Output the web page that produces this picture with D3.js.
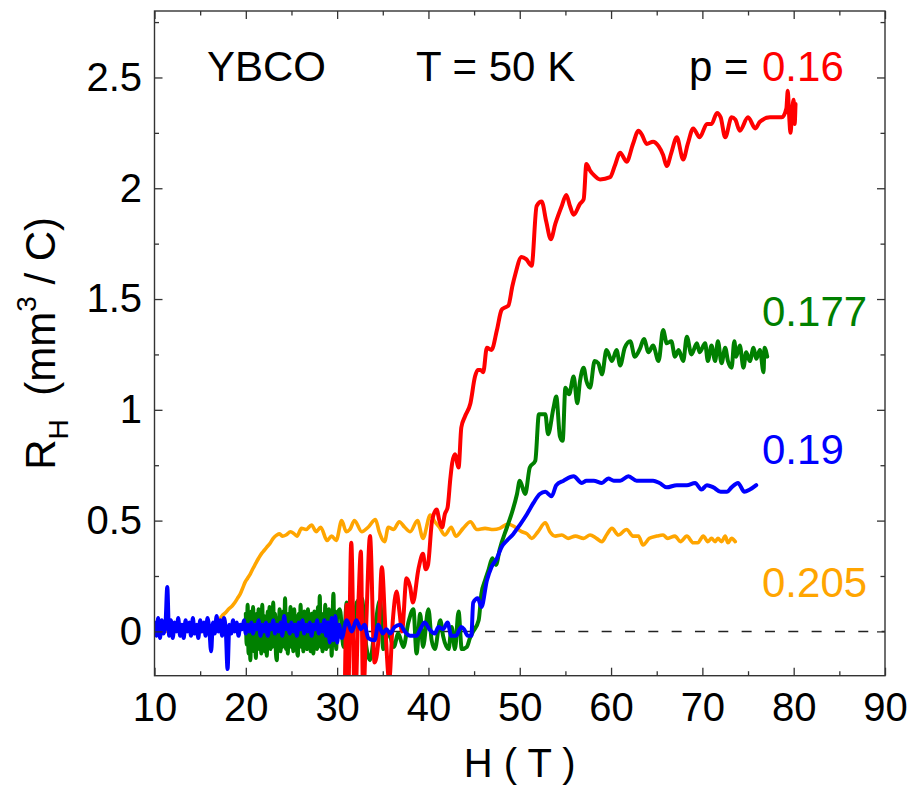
<!DOCTYPE html>
<html>
<head>
<meta charset="utf-8">
<script src="https://cdn.jsdelivr.net/npm/d3@7"></script>
<style>
  html, body { margin: 0; padding: 0; background: #fff; }
  svg { display: block; font-family: "Liberation Sans", Arial, sans-serif; }
  text { white-space: pre; }
</style>
</head>
<body>
<svg id="chart" width="915" height="786"></svg>
<script>
// Hall coefficient R_H vs field H for YBCO at T = 50 K, four dopings p.

const xTicks = [10, 20, 30, 40, 50, 60, 70, 80, 90];
const xMinor = [15, 25, 35, 45, 55, 65, 75, 85];
const yTicks = [0, 0.5, 1, 1.5, 2, 2.5];
const yMinor = [0.25, 0.75, 1.25, 1.75, 2.25, 2.75];
const yTickLabels = ["0", "0.5", "1", "1.5", "2", "2.5"];

// p = 0.16  [H (T), R_H (mm^3/C)]
const red = [
  [30.8,-0.40],[31.05,0.12],[31.2,-0.30],[31.55,0.40],[31.95,-0.35],[32.35,0.15],[32.6,0.36],
  [32.85,-0.30],[33.2,0.05],[33.6,0.43],[34.1,-0.14],[34.5,-0.05],[34.9,0.29],[35.3,0.00],
  [35.7,-0.22],[36.1,0.05],[36.5,0.18],[36.85,0.08],[37.1,0.00],[37.6,0.24],[38.0,0.20],
  [38.3,0.13],[38.9,0.28],[39.4,0.35],[39.7,0.28],[39.95,0.30],[40.4,0.50],[40.9,0.55],
  [41.2,0.50],[41.5,0.47],[41.8,0.53],[42.1,0.56],[42.4,0.69],[42.6,0.76],[42.9,0.80],
  [43.3,0.74],[43.6,0.92],[44.0,0.97],[44.6,1.03],[45.1,1.15],[45.4,1.18],[45.7,1.18],
  [46.0,1.17],[46.4,1.28],[46.9,1.27],[47.5,1.36],[48.0,1.45],[48.3,1.46],[48.75,1.47],
  [49.2,1.56],[49.5,1.61],[50.2,1.69],[50.7,1.68],[51.3,1.65],[51.85,1.92],[52.4,1.94],
  [52.9,1.85],[53.4,1.77],[53.9,1.84],[54.6,1.92],[55.1,1.97],[55.5,1.92],[55.9,1.88],
  [56.6,1.93],[57.0,1.95],[57.3,2.11],[57.7,2.08],[58.1,2.06],[58.8,2.04],[59.9,2.05],
  [60.4,2.10],[61.0,2.16],[61.7,2.12],[62.4,2.20],[63.0,2.26],[63.4,2.24],[63.9,2.20],
  [64.6,2.21],[65.2,2.19],[65.7,2.15],[66.1,2.10],[66.6,2.16],[67.2,2.23],[67.9,2.13],
  [68.4,2.20],[69.0,2.27],[69.7,2.23],[70.5,2.29],[71.0,2.29],[71.6,2.34],[72.0,2.32],
  [72.5,2.23],[73.2,2.32],[73.6,2.31],[74.1,2.26],[75.0,2.32],[75.8,2.27],[76.3,2.30],
  [77.4,2.32],[78.7,2.32],[79.2,2.36],[79.35,2.44],[79.5,2.33],[79.65,2.25],[79.85,2.36],
  [80.0,2.40],[80.1,2.29],[80.2,2.38]
];

// p = 0.177
const green = [
  [20.0,0.08],[20.1,-0.06],[20.2,0.12],[20.3,-0.10],[20.4,0.05],[20.5,-0.13],[20.6,0.09],
  [20.7,-0.05],[20.8,0.11],[20.9,-0.09],[21.0,0.06],[21.1,-0.12],[21.2,0.08],[21.3,-0.04],
  [21.4,0.10],[21.5,-0.08],[21.6,0.04],[21.7,-0.10],[21.8,0.12],[21.9,-0.06],[22.0,0.07],
  [22.1,-0.09],[22.2,0.03],[22.3,-0.11],[22.4,0.09],[22.5,-0.05],[22.6,0.11],[22.7,-0.08],
  [22.8,0.05],[22.9,-0.07],[23.0,0.13],[23.1,-0.04],[23.2,0.08],[23.3,-0.10],[23.4,-0.13],
  [23.5,0.06],[23.6,-0.06],[23.7,0.10],[23.8,-0.09],[23.9,0.04],[24.0,-0.07],[24.1,0.09],
  [24.2,-0.05],[24.3,0.15],[24.4,-0.08],[24.5,0.06],[24.6,-0.10],[24.7,0.08],[24.8,-0.04],
  [24.9,0.11],[25.0,-0.07],[25.1,0.05],[25.2,-0.09],[25.3,0.10],[25.4,-0.06],[25.5,0.07],
  [25.6,-0.08],[25.7,-0.11],[25.8,0.08],[25.9,-0.05],[26.0,0.12],[26.1,-0.07],[26.2,0.06],
  [26.3,-0.09],[26.4,0.09],[26.5,-0.04],[26.6,0.07],[26.7,-0.08],[26.8,0.10],[26.9,-0.06],
  [27.0,0.05],[27.1,-0.09],[27.2,0.08],[27.3,-0.05],[27.4,-0.10],[27.5,0.09],[27.6,-0.07],
  [27.7,0.06],[27.8,-0.08],[27.9,0.11],[28.0,-0.04],[28.1,0.16],[28.2,-0.07],[28.3,0.08],
  [28.4,-0.09],[28.5,0.07],[28.6,-0.06],[28.7,0.12],[28.8,-0.08],[28.9,0.05],[29.0,-0.07],
  [29.1,0.10],[29.2,-0.05],[29.3,0.08],[29.4,-0.11],[29.5,0.06],[29.6,0.17],[29.7,-0.06],
  [29.8,0.09],[29.9,-0.08],[30.0,0.07],
  [30.3,0.10],[30.7,-0.07],[31.05,0.13],[31.6,-0.05],[32.15,0.13],[32.7,0.15],[33.2,-0.07],
  [33.6,-0.13],[34.15,0.02],[34.7,0.14],[35.06,-0.08],[35.6,0.00],[36.2,-0.07],[36.7,-0.01],
  [37.25,-0.07],[37.8,0.04],[38.35,0.10],[38.7,-0.10],[39.1,0.08],[39.4,-0.07],[40.0,0.10],
  [40.35,-0.04],[40.7,-0.08],[41.3,0.05],[41.6,-0.02],[42.2,-0.08],[42.55,0.02],[42.9,-0.08],
  [43.3,0.09],[43.65,-0.08],[44.2,-0.07],[44.55,-0.03],[44.9,0.00],[45.5,0.05],[45.8,0.17],
  [46.2,0.23],[46.6,0.28],[47.0,0.33],[47.4,0.30],[47.8,0.37],[48.6,0.47],[49.1,0.53],
  [49.7,0.62],[50.0,0.68],[50.6,0.62],[51.1,0.74],[51.7,0.77],[52.1,0.98],[52.8,0.98],
  [53.1,0.89],[53.7,1.01],[54.0,1.06],[54.4,0.88],[54.7,0.86],[55.0,1.10],[55.4,1.07],
  [55.9,1.15],[56.3,1.03],[56.6,1.13],[57.0,1.19],[57.3,1.13],[57.7,1.10],[58.2,1.22],
  [58.6,1.21],[59.0,1.16],[59.5,1.27],[60.1,1.22],[60.6,1.27],[61.0,1.20],[61.5,1.28],
  [62.1,1.31],[62.6,1.24],[63.2,1.28],[63.6,1.32],[64.1,1.26],[64.6,1.29],[65.2,1.22],
  [65.7,1.36],[66.1,1.30],[66.6,1.31],[67.0,1.24],[67.4,1.27],[67.9,1.22],[68.3,1.33],
  [68.8,1.25],[69.4,1.30],[69.7,1.26],[70.3,1.30],[70.6,1.22],[71.0,1.29],[71.4,1.22],
  [71.7,1.31],[72.1,1.21],[72.5,1.28],[72.8,1.22],[73.2,1.19],[73.5,1.31],[73.7,1.24],
  [74.1,1.29],[74.5,1.19],[74.8,1.26],[75.2,1.22],[75.6,1.28],[75.9,1.23],[76.3,1.27],
  [76.7,1.17],[76.8,1.28],[77.1,1.24]
];

// p = 0.19
const blue = [
  [10.0,0.04],[10.2,-0.02],[10.4,0.06],[10.6,-0.03],[10.8,0.05],[11.0,-0.01],[11.2,0.03],
  [11.4,0.20],[11.6,-0.02],[11.8,0.05],[12.0,-0.03],[12.2,0.04],[12.4,0.00],[12.6,0.06],
  [12.8,-0.02],[13.0,0.03],[13.2,-0.03],[13.4,0.05],[13.6,0.00],[13.8,0.04],[14.0,-0.02],
  [14.2,0.06],[14.4,-0.01],[14.6,0.03],[14.8,-0.03],[15.0,0.05],[15.2,0.00],[15.4,0.04],
  [15.6,-0.02],[15.8,0.06],[16.0,0.01],[16.2,-0.09],[16.4,0.04],[16.6,-0.01],[16.8,0.07],
  [17.0,0.00],[17.2,0.05],[17.4,-0.02],[17.6,0.06],[17.8,0.01],[18.0,-0.17],[18.2,0.03],
  [18.4,-0.01],[18.6,0.05],[18.8,0.00],[19.0,0.04],[19.2,-0.02],[19.4,0.03],[19.6,0.01],
  [19.8,0.05],[20.0,-0.01],[20.2,0.03],[20.4,0.00],[20.6,0.04],[20.8,-0.01],[21.0,0.03],
  [21.2,0.01],[21.4,0.05],[21.6,-0.02],[21.8,0.03],[22.0,0.00],[22.2,0.04],[22.4,-0.02],
  [22.6,0.03],[22.8,0.01],[23.0,0.05],[23.2,-0.01],[23.4,0.03],[23.6,0.00],[23.8,0.04],
  [24.0,-0.02],[24.2,0.07],[24.4,0.01],[24.6,0.03],[24.8,-0.01],[25.0,0.04],[25.2,0.00],
  [25.4,0.03],[25.6,-0.02],[25.8,0.04],[26.0,0.01],[26.2,0.05],[26.4,-0.01],[26.6,0.03],
  [26.8,0.00],[27.0,0.04],[27.2,-0.02],[27.4,0.03],[27.6,0.01],[27.8,0.05],[28.0,-0.01],
  [28.2,0.03],[28.4,0.00],[28.6,0.05],[28.8,-0.02],[29.0,0.04],[29.2,-0.05],[29.4,0.06],
  [29.6,-0.04],[29.8,0.07],[30.0,-0.05],[30.2,0.03],
  [30.5,-0.03],[31.05,0.05],[31.6,0.00],[32.1,0.05],[32.6,0.01],[33.0,0.03],[33.4,-0.03],
  [34.1,-0.04],[34.5,0.03],[35.0,-0.01],[35.4,0.01],[35.8,-0.01],[36.3,0.02],[36.9,0.03],
  [37.4,0.00],[38.0,-0.02],[38.7,-0.02],[39.1,0.01],[39.6,0.04],[40.1,0.01],[40.7,-0.01],
  [41.1,0.02],[41.6,0.01],[42.1,0.04],[42.5,-0.02],[43.0,-0.02],[43.6,0.02],[43.9,0.01],
  [44.3,-0.02],[44.7,-0.02],[44.9,0.13],[45.4,0.15],[45.8,0.11],[46.4,0.23],[46.9,0.29],
  [47.5,0.33],[48.0,0.38],[48.6,0.41],[49.3,0.44],[50.0,0.48],[50.8,0.53],[51.5,0.58],
  [52.2,0.62],[52.8,0.63],[53.5,0.61],[54.0,0.66],[54.8,0.68],[55.9,0.70],[56.8,0.67],
  [57.3,0.68],[58.1,0.68],[59.0,0.67],[59.7,0.69],[60.3,0.68],[61.0,0.68],[61.9,0.70],
  [62.8,0.68],[63.5,0.68],[64.6,0.68],[65.3,0.67],[66.1,0.65],[67.2,0.66],[68.3,0.66],
  [69.2,0.67],[69.9,0.64],[70.5,0.66],[71.2,0.65],[72.0,0.63],[72.7,0.63],[73.2,0.65],
  [73.9,0.67],[74.6,0.63],[75.2,0.64],[75.9,0.66]
];

// p = 0.205
const orange = [
  [10.0,0.010],[10.4,-0.005],[10.8,0.015],[11.2,0.000],[11.6,0.012],[12.0,-0.004],[12.4,0.010],
  [12.8,0.000],[13.2,0.014],[13.6,0.002],[14.0,0.012],[14.4,-0.003],[14.8,0.008],[15.2,0.000],
  [15.6,0.006],[16.0,0.004],[16.3,0.012],[16.6,0.020],[17.0,0.045],[17.4,0.070],[17.8,0.085],
  [18.1,0.100],[18.5,0.115],[18.8,0.130],[19.1,0.150],[19.4,0.170],[19.7,0.200],[19.9,0.220],
  [20.2,0.240],[20.5,0.260],[20.8,0.285],[21.0,0.300],[21.4,0.330],[21.7,0.350],[22.0,0.365],
  [22.3,0.380],[22.7,0.400],[23.0,0.420],[23.4,0.435],[23.7,0.440],[24.0,0.430],[24.4,0.435],
  [24.9,0.450],[25.3,0.440],[25.6,0.430],[26.1,0.465],[26.6,0.460],[27.2,0.480],[27.7,0.450],
  [28.2,0.470],[28.9,0.410],[29.4,0.430],[29.9,0.410],[30.5,0.500],[31.0,0.450],[31.4,0.460],
  [31.9,0.500],[32.7,0.450],[33.4,0.470],[34.2,0.505],[34.6,0.450],[35.2,0.405],[35.6,0.470],
  [36.2,0.460],[36.8,0.495],[37.4,0.470],[38.0,0.450],[38.8,0.500],[39.4,0.420],[40.2,0.525],
  [40.7,0.495],[41.2,0.470],[41.8,0.435],[42.5,0.470],[43.0,0.430],[43.8,0.465],[44.6,0.495],
  [45.3,0.460],[46.2,0.465],[47.1,0.460],[47.8,0.465],[48.7,0.485],[49.5,0.470],[50.2,0.450],
  [50.8,0.440],[51.3,0.420],[52.0,0.450],[52.8,0.490],[53.3,0.450],[53.9,0.430],[54.6,0.435],
  [55.3,0.420],[56.1,0.430],[57.0,0.420],[57.7,0.435],[58.4,0.420],[59.0,0.405],[59.5,0.435],
  [60.1,0.465],[60.8,0.435],[61.7,0.460],[62.4,0.430],[63.0,0.430],[63.5,0.390],[64.2,0.420],
  [65.0,0.430],[65.7,0.435],[66.2,0.420],[67.0,0.430],[67.6,0.405],[68.3,0.430],[69.0,0.400],
  [69.5,0.400],[70.1,0.430],[70.6,0.405],[71.0,0.420],[71.4,0.405],[71.7,0.420],[72.1,0.405],
  [72.5,0.430],[72.8,0.400],[73.2,0.420],[73.6,0.405]
];

const series = [
  { name: "0.205", data: orange, color: "#ffa500", width: 3.6, labelR: 0.155 },
  { name: "0.177", data: green,  color: "#008000", width: 4,   labelR: 1.38 },
  { name: "0.16",  data: red,    color: "#ff0000", width: 4,   labelR: null },
  { name: "0.19",  data: blue,   color: "#0000ff", width: 4,   labelR: 0.755 }
];

const plot = { left: 154.5, right: 885, top: 11, bottom: 675.7 };

const svg = d3.select("#chart");
const x = d3.scaleLinear().domain([10, 90]).range([plot.left, plot.right]);
const y = d3.scaleLinear().domain([-0.2, 2.8]).range([plot.bottom, plot.top]);

svg.append("defs").append("clipPath").attr("id", "plotClip")
  .append("rect")
  .attr("x", plot.left).attr("y", plot.top)
  .attr("width", plot.right - plot.left).attr("height", plot.bottom - plot.top);

// zero reference line
const zeroPeriod = 23.33;
const zeroOffset = zeroPeriod - ((485 - plot.left) % zeroPeriod);
svg.append("path")
  .datum([[10, 0], [90, 0]])
  .attr("d", d3.line().x(d => x(d[0])).y(d => y(d[1])))
  .attr("stroke", "#222").attr("stroke-width", 1.5)
  .attr("stroke-dasharray", "10 13.33")
  .attr("stroke-dashoffset", zeroOffset)
  .attr("fill", "none");

// curves
const line = d3.line()
  .x(d => x(d[0]))
  .y(d => y(d[1]))
  .curve(d3.curveMonotoneX);

const curves = svg.append("g").attr("clip-path", "url(#plotClip)");
series.forEach(s => {
  curves.append("path")
    .datum(s.data)
    .attr("d", line)
    .attr("fill", "none")
    .attr("stroke", s.color)
    .attr("stroke-width", s.width)
    .attr("stroke-linejoin", "round")
    .attr("stroke-linecap", "round");
});

// axes: inward ticks on all four sides
const axisColor = "#333";
const labelFont = 40;

function styleAxis(g) {
  g.select(".domain").remove();
  g.selectAll(".tick line").attr("stroke", axisColor).attr("stroke-width", 1.3);
}

const gxB = svg.append("g").attr("transform", `translate(0,${plot.bottom})`)
  .call(d3.axisBottom(x).tickValues(xTicks).tickSize(-8).tickPadding(17).tickFormat(d3.format("d")));
styleAxis(gxB);
gxB.selectAll(".tick text").attr("font-size", labelFont).attr("fill", "#000")
  .attr("font-family", "Liberation Sans, Arial, sans-serif");

svg.append("g").attr("transform", `translate(0,${plot.bottom})`)
  .call(d3.axisBottom(x).tickValues(xMinor).tickSize(-4.5).tickFormat(""))
  .call(styleAxis);
svg.append("g").attr("transform", `translate(0,${plot.top})`)
  .call(d3.axisTop(x).tickValues(xTicks).tickSize(-8).tickFormat(""))
  .call(styleAxis);
svg.append("g").attr("transform", `translate(0,${plot.top})`)
  .call(d3.axisTop(x).tickValues(xMinor).tickSize(-4.5).tickFormat(""))
  .call(styleAxis);

const gyL = svg.append("g").attr("transform", `translate(${plot.left},0)`)
  .call(d3.axisLeft(y).tickValues(yTicks).tickSize(-8).tickPadding(12.5)
    .tickFormat((d, i) => yTickLabels[i]));
styleAxis(gyL);
gyL.selectAll(".tick text").attr("font-size", labelFont).attr("fill", "#000")
  .attr("font-family", "Liberation Sans, Arial, sans-serif");

svg.append("g").attr("transform", `translate(${plot.left},0)`)
  .call(d3.axisLeft(y).tickValues(yMinor).tickSize(-4.5).tickFormat(""))
  .call(styleAxis);
svg.append("g").attr("transform", `translate(${plot.right},0)`)
  .call(d3.axisRight(y).tickValues(yTicks).tickSize(-8).tickFormat(""))
  .call(styleAxis);
svg.append("g").attr("transform", `translate(${plot.right},0)`)
  .call(d3.axisRight(y).tickValues(yMinor).tickSize(-4.5).tickFormat(""))
  .call(styleAxis);

// frame
svg.append("rect")
  .attr("x", plot.left).attr("y", plot.top)
  .attr("width", plot.right - plot.left).attr("height", plot.bottom - plot.top)
  .attr("fill", "none").attr("stroke", axisColor).attr("stroke-width", 1.4);

// axis titles
svg.append("text")
  .attr("x", (plot.left + plot.right) / 2).attr("y", 777)
  .attr("text-anchor", "middle").attr("font-size", 40).attr("fill", "#000")
  .text("H ( T )");

const yTitle = svg.append("text")
  .attr("transform", `translate(55,${(plot.top + plot.bottom) / 2}) rotate(-90)`)
  .attr("text-anchor", "middle").attr("font-size", 42).attr("fill", "#000");
yTitle.append("tspan").text("R");
yTitle.append("tspan").attr("font-size", 28).attr("dy", 13).text("H");
yTitle.append("tspan").attr("dy", -13).text("  (mm");
yTitle.append("tspan").attr("font-size", 28).attr("dy", -19).text("3");
yTitle.append("tspan").attr("dy", 19).text(" / C)");

// annotations
const annFont = 42;
svg.append("text").attr("x", 207).attr("y", 81).attr("font-size", annFont).text("YBCO");
svg.append("text").attr("x", 416).attr("y", 81).attr("font-size", annFont).text("T = 50 K");
svg.append("text").attr("x", 689).attr("y", 81).attr("font-size", annFont).text("p = ");
svg.append("text").attr("x", 762).attr("y", 81).attr("font-size", annFont)
  .attr("fill", "#ff0000").text("0.16");

series.filter(s => s.labelR !== null).forEach(s => {
  svg.append("text")
    .attr("x", 762).attr("y", y(s.labelR))
    .attr("font-size", annFont).attr("fill", s.color)
    .text(s.name);
});
</script>
</body>
</html>
